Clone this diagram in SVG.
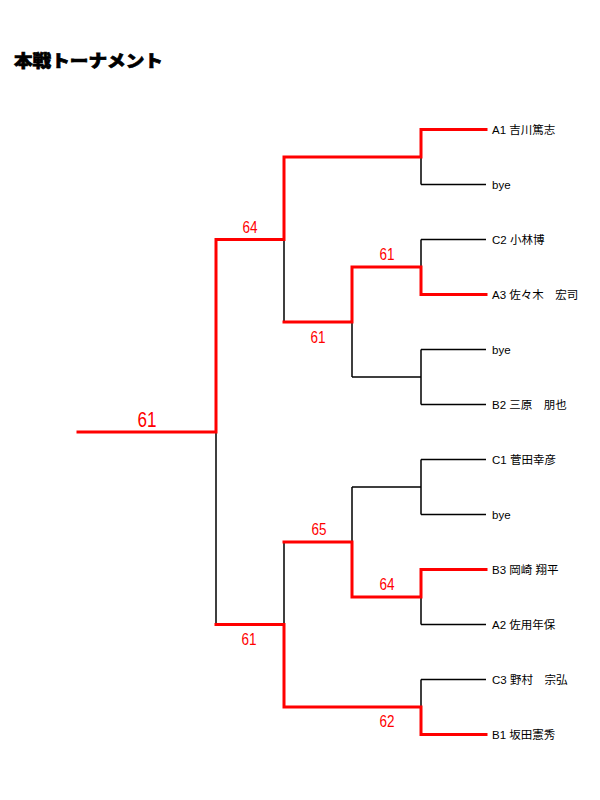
<svg xmlns="http://www.w3.org/2000/svg" width="600" height="800" viewBox="0 0 600 800">
<style>
.bg{fill:#fff}
.ln{fill:none;stroke:#000;stroke-width:1.5}
.win{fill:none;stroke:#ff0000;stroke-width:3;stroke-linejoin:miter;stroke-linecap:square}
.name{font-family:"Liberation Sans","Noto Sans CJK JP",sans-serif;font-size:11.5px;fill:#000}
.score{font-family:"Liberation Sans","Noto Sans CJK JP",sans-serif;font-size:16px;fill:#ff0000;text-anchor:middle}
.big{font-size:22px}
.title{font-family:"Noto Sans CJK JP",sans-serif;font-weight:900;font-size:17px;fill:#000;stroke:#000;stroke-width:0.7}
</style>
<rect class="bg" x="0" y="0" width="600" height="800"/>
<g id="title"><text class="title" x="14" y="67" textLength="149" lengthAdjust="spacingAndGlyphs">本戦トーナメント</text></g>
<g id="connectors">
<path class="ln" d="M421,129.5H486M421,184.5H486M421,239.5H486M421,294.5H486M421,349.5H486M421,404.5H486M421,459.5H486M421,514.5H486M421,569.5H486M421,624.5H486M421,679.5H486M421,734.5H486"/>
<path class="ln" d="M421,129.5V184.5M421,239.5V294.5M421,349.5V404.5M421,459.5V514.5M421,569.5V624.5M421,679.5V734.5"/>
<path class="ln" d="M421,157H284M421,267H352M421,377H352M421,487H352M421,597H352M421,707H284"/>
<path class="ln" d="M352,267V377M352,487V597M352,322H284M352,542H284"/>
<path class="ln" d="M284,157V322M284,542V707M284,239.5H216M284,624.5H216M216,239.5V624.5M216,432H78"/>
<path class="win" d="M486,129.5H421V157H284V239.5H216V432H78"/>
<path class="win" d="M486,294.5H421V267H352V322H284"/>
<path class="win" d="M486,569.5H421V597H352V542H284"/>
<path class="win" d="M486,734.5H421V707H284V624.5H216"/>
</g>
<g id="scores">
<text class="score big" x="147" y="427" textLength="19" lengthAdjust="spacingAndGlyphs">61</text>
<text class="score" x="250" y="233" textLength="15" lengthAdjust="spacingAndGlyphs">64</text>
<text class="score" x="387" y="260" textLength="15" lengthAdjust="spacingAndGlyphs">61</text>
<text class="score" x="318" y="343" textLength="15" lengthAdjust="spacingAndGlyphs">61</text>
<text class="score" x="319" y="535" textLength="15" lengthAdjust="spacingAndGlyphs">65</text>
<text class="score" x="387" y="590" textLength="15" lengthAdjust="spacingAndGlyphs">64</text>
<text class="score" x="249" y="645" textLength="15" lengthAdjust="spacingAndGlyphs">61</text>
<text class="score" x="387" y="727" textLength="15" lengthAdjust="spacingAndGlyphs">62</text>
</g>
<g id="p1"><text class="name" x="492" y="133.5">A1 吉川篤志</text></g>
<g id="p2"><text class="name" x="492" y="188.5">bye</text></g>
<g id="p3"><text class="name" x="492" y="243.5">C2 小林博</text></g>
<g id="p4"><text class="name" x="492" y="298.5">A3 佐々木　宏司</text></g>
<g id="p5"><text class="name" x="492" y="353.5">bye</text></g>
<g id="p6"><text class="name" x="492" y="408.5">B2 三原　朋也</text></g>
<g id="p7"><text class="name" x="492" y="463.5">C1 菅田幸彦</text></g>
<g id="p8"><text class="name" x="492" y="518.5">bye</text></g>
<g id="p9"><text class="name" x="492" y="573.5">B3 岡崎 翔平</text></g>
<g id="p10"><text class="name" x="492" y="628.5">A2 佐用年保</text></g>
<g id="p11"><text class="name" x="492" y="683.5">C3 野村　宗弘</text></g>
<g id="p12"><text class="name" x="492" y="738.5">B1 坂田憲秀</text></g>
</svg>
